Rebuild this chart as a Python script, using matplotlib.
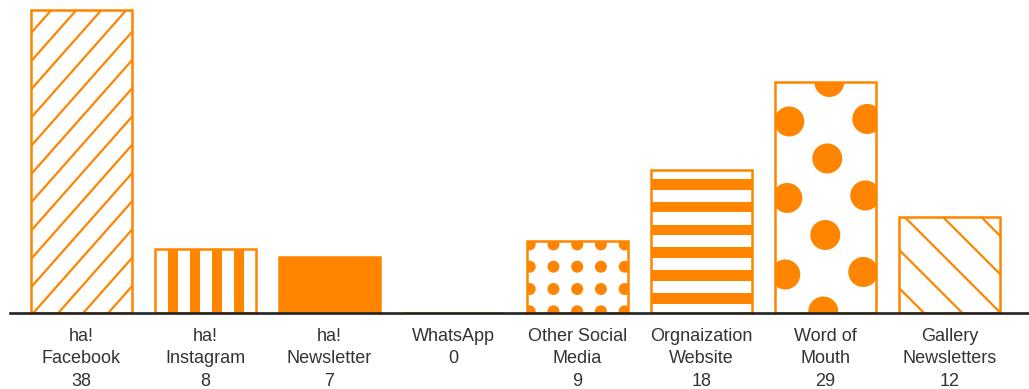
import matplotlib
matplotlib.use("Agg")
import matplotlib.pyplot as plt
import numpy as np
from matplotlib.collections import LineCollection, PatchCollection
from matplotlib.patches import Circle, Rectangle
from matplotlib.transforms import IdentityTransform

# ---- data ----
categories = ["ha!\nFacebook", "ha!\nInstagram", "ha!\nNewsletter", "WhatsApp",
              "Other Social\nMedia", "Orgnaization\nWebsite", "Word of\nMouth",
              "Gallery\nNewsletters"]
values = [38, 8, 7, 0, 9, 18, 29, 12]
patterns = ["fwd", "vstripe", "solid", "none", "smalldots", "hstripe", "bigdots", "back"]

ORANGE = "#FF8500"
TEXT = "#333333"
W, H, DPI = 1029, 389, 100

plt.rcParams['font.family'] = ['Liberation Sans', 'DejaVu Sans']

fig = plt.figure(figsize=(W / DPI, H / DPI), dpi=DPI)
ax = fig.add_axes([10 / W, (H - 313) / H, 1 - 10 / W, 313 / H])
ax.set_xlim(-0.5766, 7.641)
ax.set_ylim(0, 313 / 7.97)

x = np.arange(len(categories))
bars = ax.bar(x, values, width=0.815, facecolor="none", edgecolor=ORANGE,
              linewidth=1.8, zorder=2)

ax.set_xticks(x)
ax.set_xticklabels([f"{c}\n{v}" for c, v in zip(categories, values)],
                   fontsize=13, color=TEXT, linespacing=1.4)
ax.tick_params(axis='x', length=0, pad=11)
ax.set_yticks([])
for s in ["left", "right", "top"]:
    ax.spines[s].set_visible(False)
ax.spines["bottom"].set_color("#222222")
ax.spines["bottom"].set_linewidth(1.9)
ax.spines["bottom"].set_zorder(5)

fig.canvas.draw()
ident = IdentityTransform()


def add_clipped(artist, patch):
    artist.set_transform(ident)
    artist.set_zorder(1.9)
    ax.add_artist(artist)
    artist.set_clip_path(patch.get_path(), patch.get_transform())


for bar, pat, v in zip(bars, patterns, values):
    if v == 0 or pat == "none":
        continue
    (x0, y0), (x1, y1) = ax.transData.transform(
        [(bar.get_x(), 0), (bar.get_x() + bar.get_width(), bar.get_height())])
    # display coords: y0 = bottom, y1 = top
    if pat == "solid":
        bar.set_facecolor(ORANGE)
    elif pat == "fwd":
        sp, slope, off = 25.0, 1.13, 2.3
        segs = []
        hgt = y1 - y0
        for k in range(-20, 20):
            bx = x0 + off + k * sp
            segs.append([(bx, y0), (bx + (hgt + 20) / slope, y0 + hgt + 20)])
        lc = LineCollection(segs, colors=ORANGE, linewidths=1.6)
        add_clipped(lc, bar)
    elif pat == "back":
        sp, off = 38.3, 6.0
        segs = []
        hgt = y1 - y0
        for k in range(-10, 10):
            tx = x0 + off + k * sp
            segs.append([(tx, y1), (tx + hgt + 20, y1 - hgt - 20)])
        lc = LineCollection(segs, colors=ORANGE, linewidths=1.6)
        add_clipped(lc, bar)
    elif pat == "vstripe":
        rects = [Rectangle((x0 + 13 + k * 22.1, y0), 10, y1 - y0) for k in range(6)]
        pc = PatchCollection(rects, facecolor=ORANGE, edgecolor="none")
        add_clipped(pc, bar)
    elif pat == "hstripe":
        rects = [Rectangle((x0, y1 - 9.5 - 10.5 - k * 22.8), x1 - x0, 10.5)
                 for k in range(8)]
        pc = PatchCollection(rects, facecolor=ORANGE, edgecolor="none")
        add_clipped(pc, bar)
    elif pat == "smalldots":
        circ = []
        for i in range(6):
            for j in range(6):
                circ.append(Circle((x0 + 2.7 + i * 23.75, y0 + 1.7 + j * 22.3), 6.0))
        pc = PatchCollection(circ, facecolor=ORANGE, edgecolor="none")
        add_clipped(pc, bar)
    elif pat == "bigdots":
        ox, oy = x0 + 52.3, y1 - 76.6
        u = np.array([38.0, -37.0])
        vv = np.array([-40.0, -39.5])
        circ = []
        for i in range(-6, 7):
            for j in range(-6, 7):
                c = np.array([ox, oy]) + i * u + j * vv
                circ.append(Circle(tuple(c), 15.0))
        pc = PatchCollection(circ, facecolor=ORANGE, edgecolor="none")
        add_clipped(pc, bar)

fig.savefig("out.png", dpi=DPI, facecolor="white")
